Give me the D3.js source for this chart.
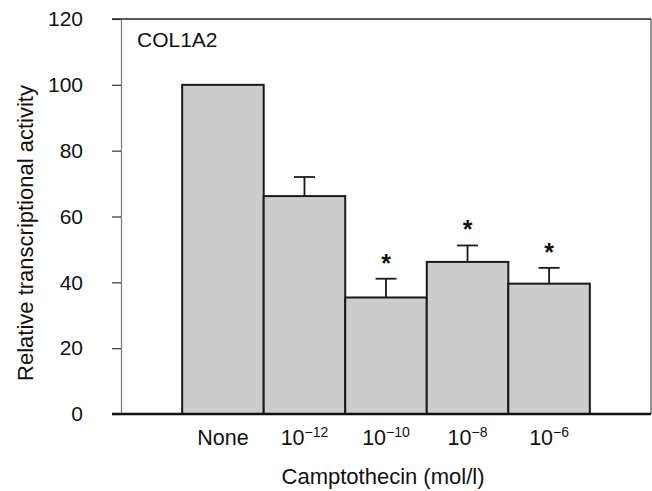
<!doctype html>
<html>
<head>
<script src="https://d3js.org/d3.v7.min.js"></script>
<style>
  body { margin: 0; background: #fff; }
  text { font-family: "Liberation Sans", Arial, sans-serif; fill: #111; }
</style>
</head>
<body>
<div class="graph"></div>
<script>
// chart values
var categories = ["None", "-12", "-10", "-8", "-6"];
var means = [100, 66.2, 35.4, 46.2, 39.6];
var errors = [0, 5.8, 5.7, 5.0, 4.8];
var significant = [false, false, true, true, true];
var yTicks = [0, 20, 40, 60, 80, 100, 120];

var width = 652, height = 491;
var plotLeft = 121, plotRight = 651, plotTop = 19, plotBottom = 414;

var svg = d3.select('.graph')
  .append('svg')
  .attr('width', width)
  .attr('height', height);

var x = d3.scaleBand()
  .domain(categories)
  .range([plotLeft, plotRight])
  .paddingInner(0)
  .paddingOuter(0.75);

var y = d3.scaleLinear()
  .domain([0, 120])
  .range([plotBottom, plotTop]);

function mid(i) { return x(categories[i]) + x.bandwidth() / 2; }

// frame: top and right
svg.append('line')
  .attr('x1', 112).attr('x2', plotRight)
  .attr('y1', y(120)).attr('y2', y(120))
  .style('stroke', '#222').style('stroke-width', 1.5);
svg.append('line')
  .attr('x1', plotRight).attr('x2', plotRight)
  .attr('y1', y(120)).attr('y2', plotBottom)
  .style('stroke', '#333').style('stroke-width', 1);

// y axis
var yAxis = svg.append('g')
  .attr('transform', 'translate(' + plotLeft + ',0)')
  .call(d3.axisLeft(y).tickValues(yTicks).tickSize(9).tickPadding(29).tickSizeOuter(0));
yAxis.select('.domain').style('stroke', '#777').style('stroke-width', 1.2);
yAxis.selectAll('.tick line').style('stroke', '#333').style('stroke-width', 1.2);
yAxis.selectAll('.tick text')
  .style('font-size', '21px')
  .style('font-family', '"Liberation Sans", Arial, sans-serif')
  .style('fill', '#111');

// bars
svg.append('g').selectAll('rect')
  .data(means)
  .enter()
  .append('rect')
  .attr('x', function(d, i) { return x(categories[i]); })
  .attr('y', function(d) { return y(d); })
  .attr('width', x.bandwidth())
  .attr('height', function(d) { return plotBottom - y(d); })
  .style('fill', '#cccccc')
  .style('stroke', '#1a1a1a')
  .style('stroke-width', 2);

// error bars (upper only)
var idx = d3.range(means.length).filter(function(i) { return errors[i] > 0; });
var err = svg.append('g').selectAll('g')
  .data(idx)
  .enter()
  .append('g');

err.append('line')
  .attr('x1', function(i) { return mid(i); })
  .attr('x2', function(i) { return mid(i); })
  .attr('y1', function(i) { return y(means[i]); })
  .attr('y2', function(i) { return y(means[i] + errors[i]); })
  .style('stroke', '#1a1a1a').style('stroke-width', 1.8);

err.append('line')
  .attr('x1', function(i) { return mid(i) - 10.5; })
  .attr('x2', function(i) { return mid(i) + 10.5; })
  .attr('y1', function(i) { return y(means[i] + errors[i]); })
  .attr('y2', function(i) { return y(means[i] + errors[i]); })
  .style('stroke', '#1a1a1a').style('stroke-width', 1.8);

// asterisks
var sig = d3.range(means.length).filter(function(i) { return significant[i]; });
svg.append('g').selectAll('text')
  .data(sig)
  .enter()
  .append('text')
  .attr('x', function(i) { return mid(i); })
  .attr('y', function(i) { return y(means[i] + errors[i]) - 7; })
  .attr('text-anchor', 'middle')
  .style('font-size', '25px')
  .style('font-weight', 'bold')
  .text('*');

// baseline
svg.append('line')
  .attr('x1', 112).attr('x2', plotRight)
  .attr('y1', plotBottom).attr('y2', plotBottom)
  .style('stroke', '#111').style('stroke-width', 2.5);

// x labels
var xl = svg.append('g').selectAll('text')
  .data(categories)
  .enter()
  .append('text')
  .attr('x', function(d) { return x(d) + x.bandwidth() / 2; })
  .attr('y', 445)
  .attr('text-anchor', 'middle')
  .style('font-size', '21.5px');

xl.each(function(d) {
  var t = d3.select(this);
  if (d === 'None') {
    t.text('None');
  } else {
    t.append('tspan').text('10');
    t.append('tspan')
      .attr('dy', -8)
      .style('font-size', '14px')
      .text('\u2212' + d.slice(1));
  }
});

// axis titles
svg.append('text')
  .attr('x', 383).attr('y', 484)
  .attr('text-anchor', 'middle')
  .style('font-size', '22px')
  .text('Camptothecin (mol/l)');

svg.append('text')
  .attr('transform', 'translate(33,233) rotate(-90)')
  .attr('text-anchor', 'middle')
  .style('font-size', '22px')
  .text('Relative transcriptional activity');

svg.append('text')
  .attr('x', 137).attr('y', 47)
  .style('font-size', '21px')
  .text('COL1A2');
</script>
</body>
</html>
